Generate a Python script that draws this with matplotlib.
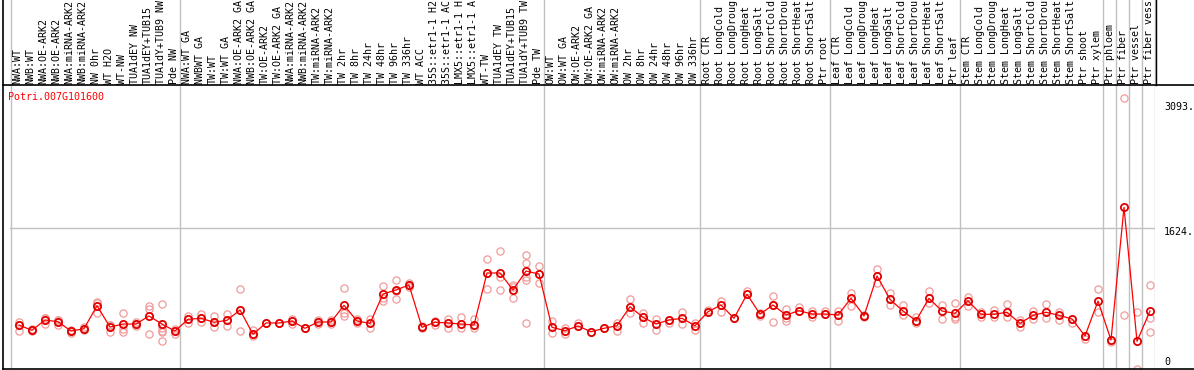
import matplotlib
matplotlib.use("Agg")
import matplotlib.pyplot as plt
from matplotlib.transforms import blended_transform_factory
import numpy as np

plt.rcParams['font.family'] = ['DejaVu Sans Mono']

gene = "Potri.007G101600"

samples = [
    "NWA:WT", "NWB:WT", "NWA:OE-ARK2", "NWB:OE-ARK2", "NWA:miRNA-ARK2", "NWB:miRNA-ARK2",
    "NW 0hr", "WT H2O", "WT-NW", "TUA1dEY NW", "TUA1dEY+TUB15", "TUA1dY+TUB9 NW", "Pde NW",
    "NWA:WT GA", "NWBWT GA", "TW:WT", "TW:WT GA", "NWA:OE-ARK2 GA", "NWB:OE-ARK2 GA",
    "TW:OE-ARK2", "TW:OE-ARK2 GA", "NWA:miRNA-ARK2", "NWB:miRNA-ARK2", "TW:miRNA-ARK2",
    "TW:miRNA-ARK2", "TW 2hr", "TW 8hr", "TW 24hr", "TW 48hr", "TW 96hr", "TW 336hr",
    "WT ACC", "35S::etr1-1 H2", "35S::etr1-1 AC", "LMX5::etr1-1 H", "LMX5::etr1-1 A",
    "WT-TW", "TUA1dEY TW", "TUA1dEY+TUB15", "TUA1dY+TUB9 TW", "Pde TW",
    "OW:WT", "OW:WT GA", "OW:OE-ARK2", "OW:OE-ARK2 GA", "OW:miRNA-ARK2", "OW:miRNA-ARK2",
    "OW 2hr", "OW 8hr", "OW 24hr", "OW 48hr", "OW 96hr", "OW 336hr",
    "Root CTR", "Root LongCold", "Root LongDroug", "Root LongHeat", "Root LongSalt",
    "Root ShortCold", "Root ShortDrou", "Root ShortHeat", "Root ShortSalt", "Ptr root",
    "Leaf CTR", "Leaf LongCold", "Leaf LongDroug", "Leaf LongHeat", "Leaf LongSalt",
    "Leaf ShortCold", "Leaf ShortDrou", "Leaf ShortHeat", "Leaf ShortSalt", "Ptr leaf",
    "Stem CTR", "Stem LongCold", "Stem LongDroug", "Stem LongHeat", "Stem LongSalt",
    "Stem ShortCold", "Stem ShortDrou", "Stem ShortHeat", "Stem ShortSalt", "Ptr shoot",
    "Ptr xylem", "Ptr phloem", "Ptr fiber", "Ptr vessel", "Ptr fiber vess",
]

# number of samples in each block (separated by grey lines)
group_sizes = [13, 28, 12, 10, 10, 11, 1, 1, 1, 1]

means = [
    531, 471, 588, 568, 463, 489, 749, 508, 542, 542, 633, 542, 463,
    595, 607, 562, 584, 701, 426, 554, 554, 576, 494, 565, 565, 754, 576, 550,
    881, 927, 983, 505, 562, 554, 542, 531, 1119, 1119, 927, 1141, 1107,
    505, 467, 520, 455, 494, 523, 738, 618, 542, 588, 607, 523,
    681, 757, 607, 878, 655, 757, 644, 693, 655, 655,
    644, 833, 633, 1085, 821, 689, 580, 833, 689, 663,
    806, 652, 652, 675, 550, 641, 675, 641, 599, 407, 802,
    362, 1861, 347, 689,
]

reps = [
    [565, 531, 463], [486, 463, 475], [610, 542, 610], [588, 531, 588], [475, 441, 463],
    [508, 475, 486], [791, 667, 780], [531, 452, 531], [667, 486, 452], [565, 520, 542],
    [746, 712, 429], [765, 494, 467, 455, 350], [486, 429, 463],
    [633, 554, 599], [655, 565, 610], [633, 508, 565], [655, 520, 588], [938, 463, 701],
    [475, 407, 429], [554], [554], [599, 542, 576], [494], [588, 542], [588, 542],
    [949, 667, 633], [599, 554], [599, 497], [972, 836, 802], [1040, 825, 916],
    [1006, 961, 983], [520, 497], [576, 531], [599, 497], [622, 497], [599, 497],
    [1277, 938, 1119], [1367, 1074, 927], [983, 836, 961], [1322, 1229, 1078, 1040, 550],
    [1198, 1006, 1107],
    [576, 441], [497, 429], [520, 554], [455], [494], [554, 463], [825, 667], [667, 554],
    [599, 475], [588, 554], [678, 542], [554, 475],
    [701, 678], [802, 678], [610], [915, 881], [667, 633], [859, 565, 757],
    [712, 610, 576], [734, 689], [689, 622], [689, 655],
    [689, 576], [893, 746], [644, 622], [1164, 1006], [893, 757], [757, 644],
    [622, 554], [915, 780], [757, 599], [780, 599, 622],
    [847, 746], [678, 622], [701, 622], [768, 622], [588, 508], [689, 599],
    [768, 610], [678, 588], [554], [373], [938, 678],
    [339], [3093, 641], [675, 37], [983, 614, 449],
]

ytick_vals = [3093, 1624, 0]
ytick_text = ["3093.", "1624.", "0"]

W, H = 1194, 370
fig = plt.figure(figsize=(W / 100, H / 100), dpi=100)

# main plotting area
ax = fig.add_axes([10 / W, 1 / H, 1145 / W, 284 / H])
x = np.arange(len(samples))
ax.set_xlim((10 - 19) / 13, (1155 - 19) / 13)
ax.set_ylim(34, 3243)
for s in ax.spines.values():
    s.set_visible(False)
ax.set_xticks([])
ax.set_yticks([])

# group separators
bounds = np.concatenate([[0], np.cumsum(group_sizes)]) - 0.64
for b in bounds:
    ax.axvline(b, color='#c0c0c0', lw=1.0, zorder=0)
ax.axhline(ytick_vals[1], color='#c0c0c0', lw=1.0, zorder=0)

for i, r in enumerate(reps):
    ax.plot([i] * len(r), r, 'o', ms=5.2, mfc='none', mec='#f09a9a', mew=0.9, zorder=2)
ax.plot(x, means, '-', color='red', lw=0.9, zorder=3)
ax.plot(x, means, 'o', ms=5.2, mfc='none', mec='#e00000', mew=1.3, zorder=4)

ax.text(-0.2 , 1.0, gene, transform=blended_transform_factory(fig.transFigure, ax.transAxes),
        color='red', fontsize=7.2, ha='left', va='top')
ax.texts[-1].set_x(8 / W)
ax.texts[-1].set_y(1 - 7 / 284)

# header with sample names
hdr = blended_transform_factory(ax.transData, fig.transFigure)
for i, name in enumerate(samples):
    ax.text(i - 0.1, 1 - 84 / H, name, transform=hdr, rotation=90, ha='center',
            va='bottom', fontsize=7.2, clip_on=False)
for b in bounds:
    ax.plot([b, b], [1 - 85 / H, 1], transform=hdr, color='#c0c0c0', lw=1.0, clip_on=False)

# y labels on the right
ylab_px = [107, 232, 362]
for t, yp in zip(ytick_text, ylab_px):
    fig.text(1164 / W, 1 - yp / H, t, fontsize=7.2, ha='left', va='center')

# frame lines
over = fig.add_axes([0, 0, 1, 1], facecolor='none')
over.set_xlim(0, W)
over.set_ylim(H, 0)
over.axis('off')
over.plot([3, 3], [0, 369], color='black', lw=1.2)
over.plot([3, W], [85, 85], color='black', lw=1.2)
over.plot([3, W], [369, 369], color='black', lw=1.2)
over.plot([1155.5, 1155.5], [0, 85], color='black', lw=1.0)

fig.savefig("out.png", dpi=100)
